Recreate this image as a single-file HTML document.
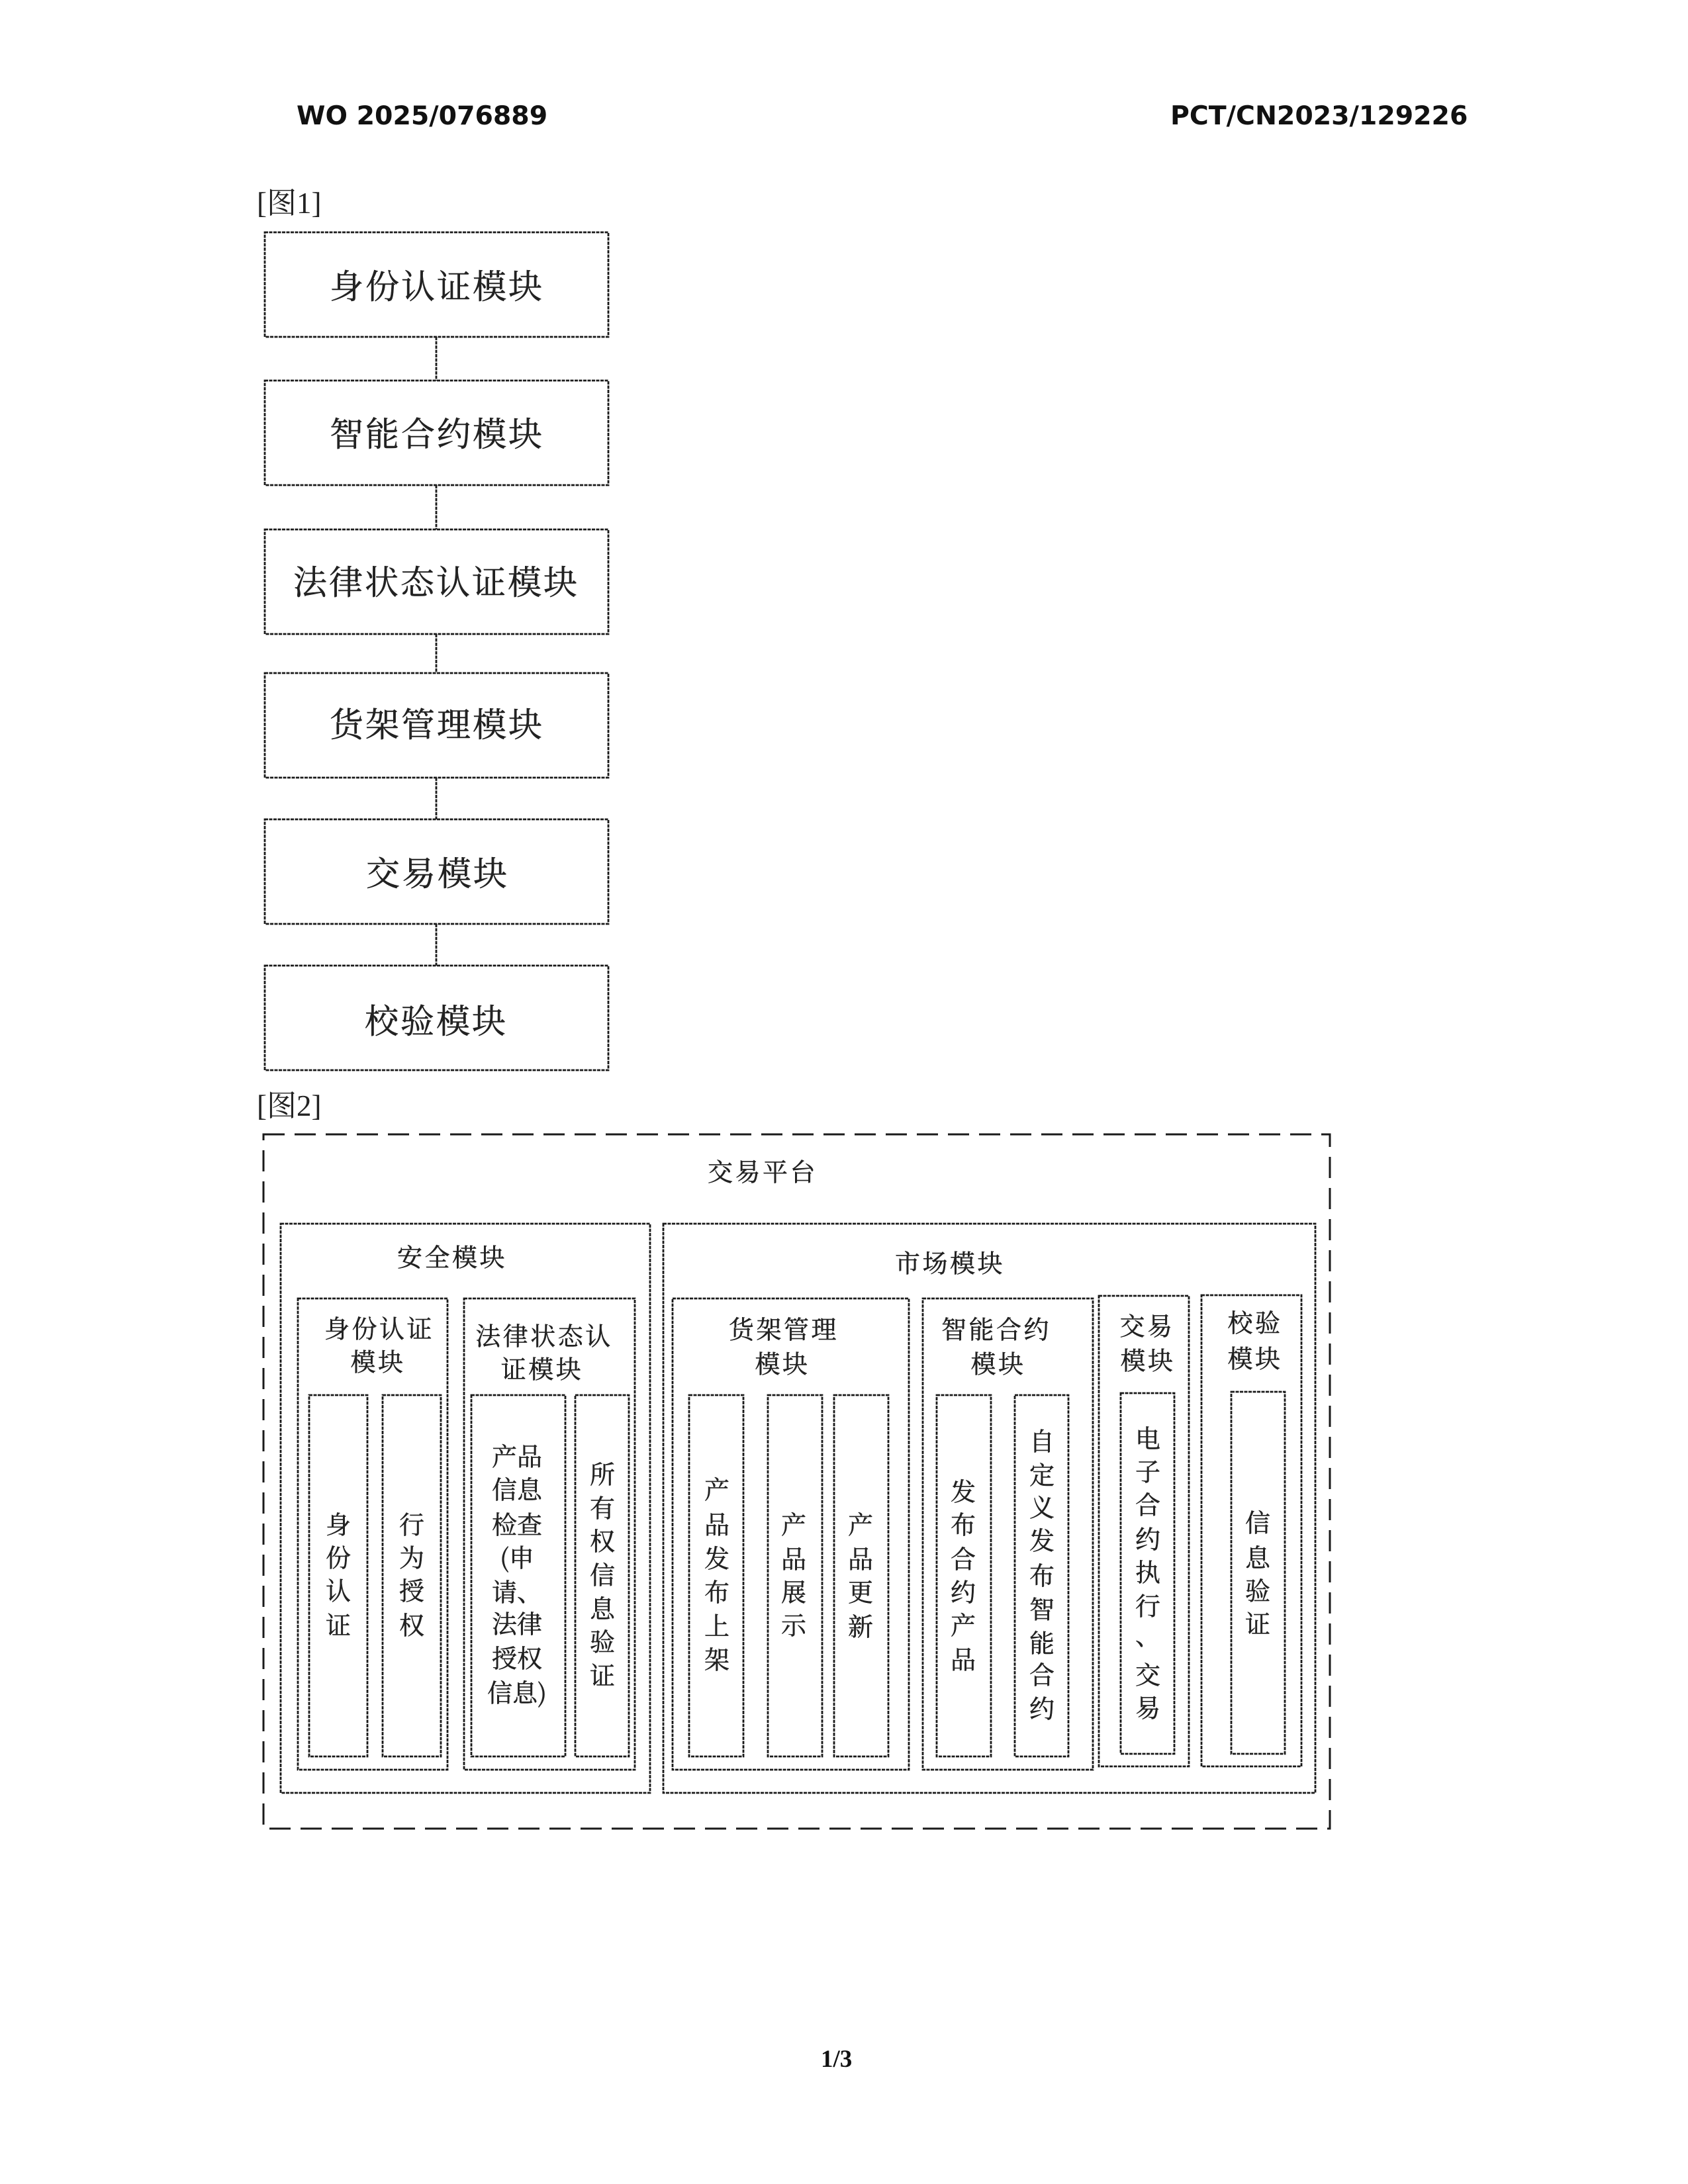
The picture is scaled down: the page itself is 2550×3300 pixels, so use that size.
<!DOCTYPE html>
<html lang="zh"><head><meta charset="utf-8"><title>WO 2025/076889</title>
<style>
html,body{margin:0;padding:0;background:#fff;width:2550px;height:3300px;overflow:hidden}
svg{display:block}
.hd{font-family:"DejaVu Sans",sans-serif;font-weight:700;font-size:39.4px;fill:#111}
.pg{font-family:"Liberation Serif",serif;font-weight:700;font-size:37px;fill:#111}
.fl{font-family:"Liberation Serif","Noto Serif CJK SC",serif;font-size:45px;fill:#222}
.a,.b,.v{font-family:"Noto Serif CJK SC",serif;fill:#222;stroke:#222;stroke-width:.5;text-anchor:middle;dominant-baseline:central;transform:translateY(-2px)}
.a{font-size:51px;letter-spacing:3px}
.b{font-size:38px;letter-spacing:3.5px}
.v{font-size:38px}
.r{fill:none;stroke:#1a1a1a;stroke-width:2.8;stroke-dasharray:5 1.5}
.o{fill:none;stroke:#1a1a1a;stroke-width:3;stroke-dasharray:32 15}
</style></head><body>
<svg xmlns="http://www.w3.org/2000/svg" width="2550" height="3300" viewBox="0 0 2550 3300">
<rect width="2550" height="3300" fill="#fff"/>
<text class="hd" x="448" y="188">WO 2025/076889</text>
<text class="hd" x="1768" y="188">PCT/CN2023/129226</text>
<text class="fl" x="388" y="322">[图1]</text>
<text class="fl" x="388" y="1686">[图2]</text>
<text class="pg" x="1240" y="3123">1/3</text>

<!-- Figure 1 -->
<rect class="r" x="400" y="351" width="519" height="158"/>
<rect class="r" x="400" y="575" width="519" height="158"/>
<rect class="r" x="400" y="800" width="519" height="158"/>
<rect class="r" x="400" y="1017" width="519" height="158"/>
<rect class="r" x="400" y="1238" width="519" height="158"/>
<rect class="r" x="400" y="1459" width="519" height="158"/>
<path class="r" d="M659 509V575M659 733V800M659 958V1017M659 1175V1238M659 1396V1459"/>
<text class="a" x="660" y="431">身份认证模块</text>
<text class="a" x="660" y="654">智能合约模块</text>
<text class="a" x="659" y="878">法律状态认证模块</text>
<text class="a" x="660" y="1093">货架管理模块</text>
<text class="a" x="661" y="1318">交易模块</text>
<text class="a" x="659" y="1541">校验模块</text>

<!-- Figure 2 -->
<rect class="o" x="398" y="1714" width="1611" height="1049"/>
<rect class="r" x="424" y="1849" width="558" height="860"/>
<rect class="r" x="1002" y="1849" width="985" height="860"/>
<rect class="r" x="450" y="1962" width="226" height="712"/>
<rect class="r" x="701" y="1962" width="258" height="712"/>
<rect class="r" x="1016" y="1962" width="357" height="712"/>
<rect class="r" x="1394" y="1962" width="257" height="712"/>
<rect class="r" x="1660" y="1958" width="136" height="711"/>
<rect class="r" x="1815" y="1957" width="151" height="712"/>
<rect class="r" x="467" y="2108" width="88" height="546"/>
<rect class="r" x="578" y="2108" width="88" height="546"/>
<rect class="r" x="712" y="2108" width="142" height="546"/>
<rect class="r" x="869" y="2108" width="81" height="546"/>
<rect class="r" x="1041" y="2108" width="82" height="546"/>
<rect class="r" x="1160" y="2108" width="82" height="546"/>
<rect class="r" x="1260" y="2108" width="82" height="546"/>
<rect class="r" x="1415" y="2108" width="82" height="546"/>
<rect class="r" x="1533" y="2108" width="81" height="546"/>
<rect class="r" x="1693" y="2105" width="81" height="545"/>
<rect class="r" x="1860" y="2103" width="81" height="547"/>

<text class="b" x="1152" y="1770">交易平台</text>
<text class="b" x="683" y="1899">安全模块</text>
<text class="b" x="1435" y="1908">市场模块</text>
<text class="b" x="573" y="2007">身份认证</text>
<text class="b" x="571" y="2057">模块</text>
<text class="b" x="822" y="2018">法律状态认</text>
<text class="b" x="819" y="2068">证模块</text>
<text class="b" x="1184" y="2008">货架管理</text>
<text class="b" x="1182" y="2060">模块</text>
<text class="b" x="1505" y="2008">智能合约</text>
<text class="b" x="1508" y="2060">模块</text>
<text class="b" x="1733" y="2003">交易</text>
<text class="b" x="1734" y="2055">模块</text>
<text class="b" x="1896" y="1998">校验</text>
<text class="b" x="1896" y="2052">模块</text>

<text class="v" x="511 511 511 511" y="2303 2353 2403 2455">身份认证</text>
<text class="v" x="622 622 622 622" y="2303 2353 2403 2455">行为授权</text>
<text class="v" x="781" y="2200">产品</text>
<text class="v" x="781" y="2250">信息</text>
<text class="v" x="781" y="2303">检查</text>
<text class="v" x="781" y="2353">(申</text>
<text class="v" x="781" y="2405">请、</text>
<text class="v" x="781" y="2453">法律</text>
<text class="v" x="781" y="2505">授权</text>
<text class="v" x="781" y="2557">信息)</text>
<text class="v" x="910 910 910 910 910 910 910" y="2227 2278 2328 2379 2430 2480 2531">所有权信息验证</text>
<text class="v" x="1083 1083 1083 1083 1083 1083" y="2250 2303 2354 2405 2456 2507">产品发布上架</text>
<text class="v" x="1199 1199 1199 1199" y="2303 2355 2405 2455">产品展示</text>
<text class="v" x="1300 1300 1300 1300" y="2303 2355 2405 2457">产品更新</text>
<text class="v" x="1455 1455 1455 1455 1455 1455" y="2253 2303 2355 2405 2455 2507">发布合约产品</text>
<text class="v" x="1574 1574 1574 1574 1574 1574 1574 1574 1574" y="2177 2228 2277 2327 2380 2431 2482 2530 2581">自定义发布智能合约</text>
<text class="v" x="1734 1734 1734 1734 1734 1734 1734 1734 1734" y="2173 2223 2273 2325 2375 2426 2471 2530 2580">电子合约执行、交易</text>
<text class="v" x="1900 1900 1900 1900" y="2300 2353 2403 2453">信息验证</text>
</svg>
</body></html>
